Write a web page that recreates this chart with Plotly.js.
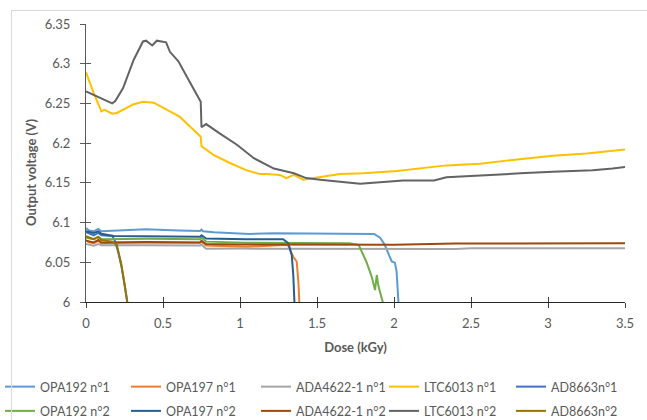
<!DOCTYPE html>
<html>
<head>
<meta charset="utf-8">
<script src="https://cdn.plot.ly/plotly-3.0.1.min.js"></script>
<style>
body{margin:0;padding:0;background:#fff}
#wrap{position:relative;width:647px;height:420px;overflow:hidden}
#chart{width:647px;height:420px}
#frame{position:absolute;left:11px;top:10px;width:700px;height:500px;border-left:1px solid #D9D9D9;border-top:1px solid #D9D9D9;pointer-events:none}
</style>
</head>
<body>
<div id="wrap"><div id="chart"></div><div id="frame"></div></div>
<script>
// ---- Data (dose in kGy, output voltage in V) ----
const seriesNames = ["OPA192 n°1","OPA197 n°1","ADA4622-1 n°1","LTC6013 n°1","AD8663n°1",
                     "OPA192 n°2","OPA197 n°2","ADA4622-1 n°2","LTC6013 n°2","AD8663n°2"];

const opa192_1_dose = [0,0.02,0.05,0.08,0.1,0.2,0.39,0.6,0.74,0.75,0.76,0.83,1.06,1.22,1.65,1.87,1.91,1.94,1.985,2.006,2.017,2.028,2.035];
const opa192_1_v    = [6.093,6.090,6.089,6.092,6.089,6.090,6.0915,6.090,6.0894,6.091,6.089,6.0877,6.0856,6.0865,6.0865,6.0856,6.081,6.072,6.051,6.0495,6.038,6.0,5.98];

const opa197_1_dose = [0,0.02,0.05,0.08,0.1,0.4,0.74,0.75,0.78,1.04,1.22,1.31,1.346,1.368,1.379,1.385,1.39];
const opa197_1_v    = [6.078,6.075,6.074,6.077,6.074,6.075,6.0745,6.076,6.071,6.0696,6.071,6.072,6.057,6.051,6.0255,6.0,5.98];

const ada4622_1_dose = [0,0.05,0.08,0.1,0.4,0.74,0.75,0.78,1.0,1.5,2.04,2.4,2.5,3.0,3.5];
const ada4622_1_v    = [6.073,6.071,6.073,6.0715,6.0715,6.071,6.072,6.067,6.0672,6.0674,6.0667,6.0668,6.0678,6.068,6.0676];

const ltc6013_1_dose = [0,0.05,0.10,0.12,0.17,0.2,0.31,0.37,0.44,0.50,0.61,0.675,0.745,0.75,0.83,0.935,1.04,1.13,1.17,1.26,1.30,1.35,1.41,1.48,1.56,1.65,1.80,2.02,2.34,2.56,2.73,3.03,3.25,3.5];
const ltc6013_1_v    = [6.289,6.263,6.240,6.242,6.237,6.238,6.249,6.252,6.251,6.245,6.233,6.221,6.208,6.196,6.185,6.175,6.166,6.161,6.161,6.160,6.156,6.160,6.154,6.156,6.158,6.161,6.162,6.165,6.172,6.174,6.178,6.184,6.187,6.192];

const ad8663_1_dose = [0,0.03,0.05,0.08,0.1,0.17,0.19,0.21,0.23,0.25,0.268,0.275];
const ad8663_1_v    = [6.088,6.085,6.084,6.087,6.084,6.083,6.076,6.062,6.045,6.023,6.0,5.98];

const opa192_2_dose = [0,0.05,0.08,0.1,0.4,0.74,0.75,0.78,1.04,1.43,1.71,1.77,1.79,1.82,1.855,1.877,1.888,1.898,1.91,1.927,1.935];
const opa192_2_v    = [6.081,6.079,6.082,6.079,6.0795,6.079,6.081,6.076,6.0747,6.074,6.074,6.072,6.063,6.051,6.032,6.015,6.034,6.021,6.012,6.0,5.98];

const opa197_2_dose = [0,0.05,0.08,0.1,0.18,0.39,0.74,0.75,0.78,1.04,1.28,1.314,1.336,1.346,1.353,1.358];
const opa197_2_v    = [6.089,6.087,6.089,6.086,6.083,6.0823,6.082,6.084,6.080,6.079,6.079,6.074,6.059,6.034,6.0,5.98];

const ada4622_2_dose = [0,0.05,0.08,0.1,0.4,0.74,0.75,0.78,1.0,1.5,2.0,2.4,2.8,3.2,3.5];
const ada4622_2_v    = [6.077,6.075,6.078,6.075,6.0755,6.075,6.077,6.073,6.0725,6.0725,6.072,6.0735,6.0735,6.0738,6.074];

const ltc6013_2_dose = [0,0.07,0.156,0.17,0.19,0.24,0.31,0.37,0.39,0.43,0.46,0.52,0.545,0.60,0.654,0.745,0.75,0.78,0.87,0.98,1.09,1.22,1.35,1.43,1.52,1.58,1.78,2.06,2.26,2.34,2.60,2.82,3.03,3.29,3.42,3.5];
const ltc6013_2_v    = [6.265,6.259,6.251,6.250,6.253,6.269,6.305,6.328,6.329,6.323,6.329,6.327,6.315,6.303,6.284,6.252,6.220,6.224,6.212,6.198,6.181,6.168,6.162,6.156,6.154,6.153,6.149,6.153,6.153,6.157,6.160,6.162,6.164,6.166,6.168,6.170];

const ad8663_2_dose = [0,0.03,0.05,0.08,0.1,0.17,0.2,0.23,0.253,0.268,0.275];
const ad8663_2_v    = [6.083,6.080,6.079,6.082,6.078,6.076,6.072,6.047,6.021,6.0,5.98];

const xTickVals = [0,0.5,1,1.5,2,2.5,3,3.5];
const yTickVals = [6,6.05,6.1,6.15,6.2,6.25,6.3,6.35];
const xTitle = "Dose (kGy)";
const yTitle = "Output voltage (V)";

// ---- Styling ----
const colors = ["#5B9BD5","#ED7D31","#A5A5A5","#FFC000","#4472C4","#70AD47","#255E91","#9E480E","#636363","#997300"];
const xs = [opa192_1_dose,opa197_1_dose,ada4622_1_dose,ltc6013_1_dose,ad8663_1_dose,opa192_2_dose,opa197_2_dose,ada4622_2_dose,ltc6013_2_dose,ad8663_2_dose];
const ys = [opa192_1_v,opa197_1_v,ada4622_1_v,ltc6013_1_v,ad8663_1_v,opa192_2_v,opa197_2_v,ada4622_2_v,ltc6013_2_v,ad8663_2_v];
const legendIds = ["legend","legend2","legend3","legend4","legend5"];
const traces = seriesNames.map((n,i)=>({
  type:"scatter", mode:"lines", name:n, x:xs[i], y:ys[i],
  line:{color:colors[i], width:2},
  legend: legendIds[i%5], legendgroup:"g"+i
}));
// helper (empty) traces so the inside-tick overlay axes are drawn
traces.push({type:"scatter", mode:"lines", x:[null], y:[null], xaxis:"x2", yaxis:"y", showlegend:false, hoverinfo:"skip"});
traces.push({type:"scatter", mode:"lines", x:[null], y:[null], xaxis:"x", yaxis:"y2", showlegend:false, hoverinfo:"skip"});

const FONT = "Lato, 'Open Sans', sans-serif";
const colX = [0, 126, 256, 384, 511];
const legendBase = {orientation:"v", xref:"container", yref:"container", xanchor:"left", yanchor:"top",
  y: 1 - 372/420, bgcolor:"rgba(0,0,0,0)", tracegroupgap:5, itemwidth:30,
  font:{family:FONT, size:12.5, color:"#595959"}};
const layout = {
  width:647, height:420,
  margin:{l:86, r:22, t:24, b:118, autoexpand:false},
  paper_bgcolor:"#ffffff", plot_bgcolor:"#ffffff",
  font:{family:FONT, color:"#595959"},
  showlegend:true,
  xaxis:{range:[0,3.5], tickvals:xTickVals, ticks:"outside", ticklen:5, tickcolor:"#404040", tickwidth:1,
    showline:true, linecolor:"#262626", linewidth:1, showgrid:false, zeroline:false,
    tickfont:{family:FONT, size:13, color:"#595959"}, ticklabelstandoff:4,
    title:{text:"<b>"+xTitle+"</b>", font:{family:FONT, size:13, color:"#595959"}, standoff:13}},
  yaxis:{range:[6,6.35], tickvals:yTickVals, ticks:"outside", ticklen:5, tickcolor:"#595959", tickwidth:1,
    showline:true, linecolor:"#595959", linewidth:1, showgrid:false, zeroline:false,
    tickfont:{family:FONT, size:13, color:"#595959"}, ticklabelstandoff:7},
  xaxis2:{overlaying:"x", anchor:"y", side:"bottom", range:[0,3.5], tickvals:xTickVals, ticks:"inside", ticklen:5,
    tickcolor:"#404040", showticklabels:false, showline:false, showgrid:false, zeroline:false},
  yaxis2:{overlaying:"y", anchor:"x", side:"left", range:[6,6.35], tickvals:yTickVals, ticks:"inside", ticklen:5,
    tickcolor:"#595959", showticklabels:false, showline:false, showgrid:false, zeroline:false},
  annotations:[{text:"<b>"+yTitle+"</b>", xref:"paper", yref:"paper", x:(31-86)/539, y:(302-173)/278,
    xanchor:"center", yanchor:"middle", textangle:-90, showarrow:false,
    font:{family:FONT, size:13, color:"#595959"}}]
};
legendIds.forEach((id,k)=>{ layout[id] = Object.assign({}, legendBase, {x: colX[k]/647}); });

Plotly.newPlot("chart", traces, layout, {displayModeBar:false, staticPlot:true});
</script>
</body>
</html>
